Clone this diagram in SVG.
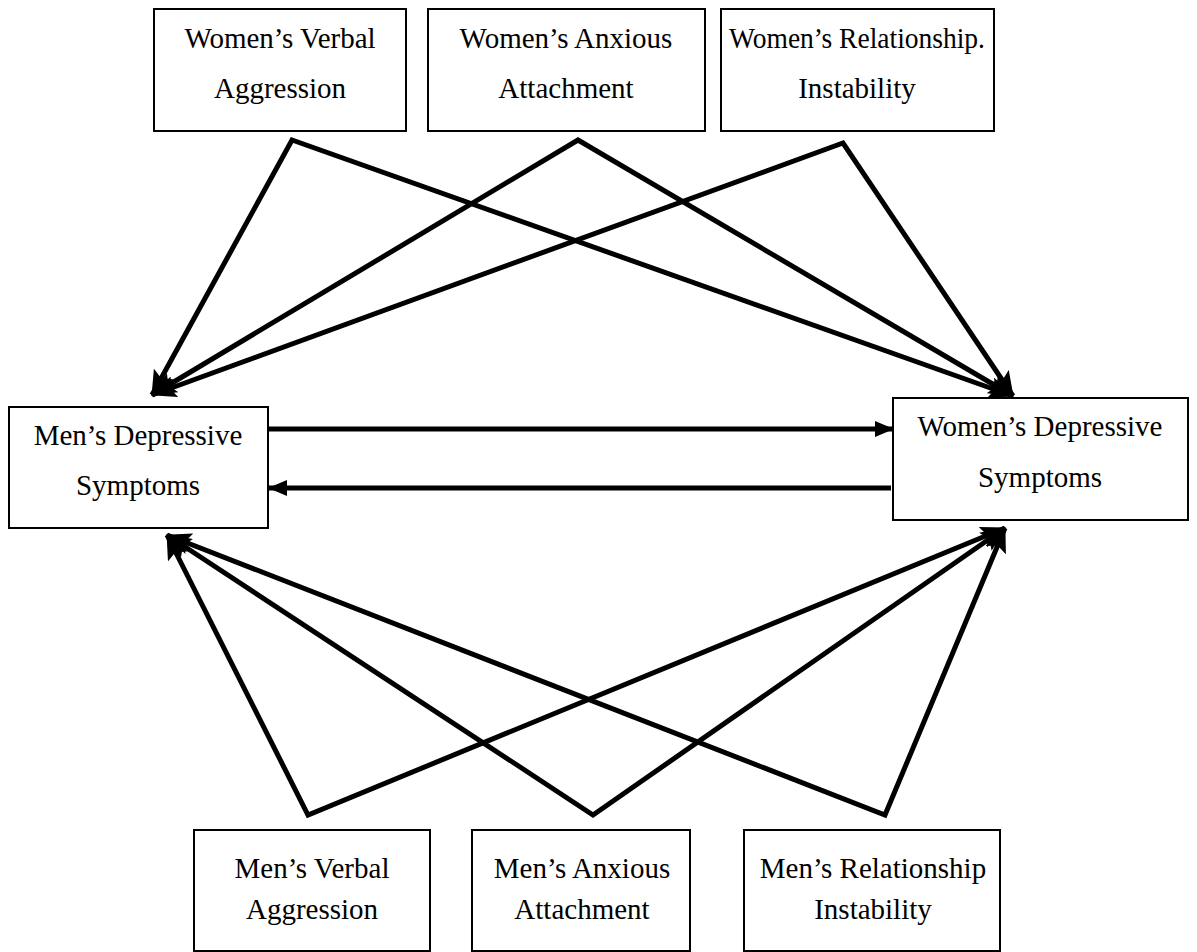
<svg xmlns="http://www.w3.org/2000/svg" width="1197" height="952" viewBox="0 0 1197 952">
<style>
.box{fill:#fff;stroke:#000;stroke-width:2}
.t{font-family:"Liberation Serif","Times New Roman",serif;font-size:29px;fill:#000;text-anchor:middle}
.c{fill:none;stroke:#000;stroke-width:5;stroke-linejoin:miter;stroke-miterlimit:10}
</style>
<defs>
<marker id="ah" markerUnits="userSpaceOnUse" markerWidth="26" markerHeight="22" refX="24" refY="11" orient="auto-start-reverse" viewBox="0 0 26 22">
<path d="M0,0 L25,11 L0,22 L5,11 Z" fill="#000"/>
</marker>
<marker id="ahs" markerUnits="userSpaceOnUse" markerWidth="20" markerHeight="18" refX="18" refY="9" orient="auto" viewBox="0 0 20 18">
<path d="M0,1 L19,9 L0,17 Z" fill="#000"/>
</marker>
</defs>
<rect width="1197" height="952" fill="#fff"/>
<g id="connectors">
<path class="c" d="M152,395 L292,140 L1013,396" marker-start="url(#ah)" marker-end="url(#ah)"/>
<path class="c" d="M152,395 L578,140 L1013,396" marker-start="url(#ah)" marker-end="url(#ah)"/>
<path class="c" d="M152,395 L843,143 L1013,396" marker-start="url(#ah)" marker-end="url(#ah)"/>
<path class="c" d="M167,535 L308,815 L1005,528" marker-start="url(#ah)" marker-end="url(#ah)"/>
<path class="c" d="M167,535 L593,815 L1005,528" marker-start="url(#ah)" marker-end="url(#ah)"/>
<path class="c" d="M167,535 L885,815 L1005,528" marker-start="url(#ah)" marker-end="url(#ah)"/>
<path class="c" d="M268,429 L893,429" marker-end="url(#ahs)"/>
<path class="c" d="M891,488 L269,488" marker-end="url(#ahs)"/>
</g>
<g id="w-verbal"><rect class="box" x="154" y="9" width="252" height="122"/><text class="t" x="280" y="48">Women’s Verbal</text><text class="t" x="280" y="98">Aggression</text></g>
<g id="w-anxious"><rect class="box" x="428" y="9" width="277" height="122"/><text class="t" x="566" y="48">Women’s Anxious</text><text class="t" x="566" y="98">Attachment</text></g>
<g id="w-instab"><rect class="box" x="721" y="9" width="273" height="122"/><text class="t" x="857" y="48" textLength="256" lengthAdjust="spacingAndGlyphs">Women’s Relationship.</text><text class="t" x="857" y="98">Instability</text></g>
<g id="m-dep"><rect class="box" x="9" y="407" width="259" height="121"/><text class="t" x="138" y="445">Men’s Depressive</text><text class="t" x="138" y="495">Symptoms</text></g>
<g id="w-dep"><rect class="box" x="893" y="398" width="295" height="122"/><text class="t" x="1040" y="436">Women’s Depressive</text><text class="t" x="1040" y="487">Symptoms</text></g>
<g id="m-verbal"><rect class="box" x="194" y="830" width="236" height="121"/><text class="t" x="312" y="878">Men’s Verbal</text><text class="t" x="312" y="919">Aggression</text></g>
<g id="m-anxious"><rect class="box" x="472" y="830" width="218" height="121"/><text class="t" x="582" y="878">Men’s Anxious</text><text class="t" x="582" y="919">Attachment</text></g>
<g id="m-instab"><rect class="box" x="744" y="830" width="256" height="121"/><text class="t" x="873" y="878">Men’s Relationship</text><text class="t" x="873" y="919">Instability</text></g>
</svg>
